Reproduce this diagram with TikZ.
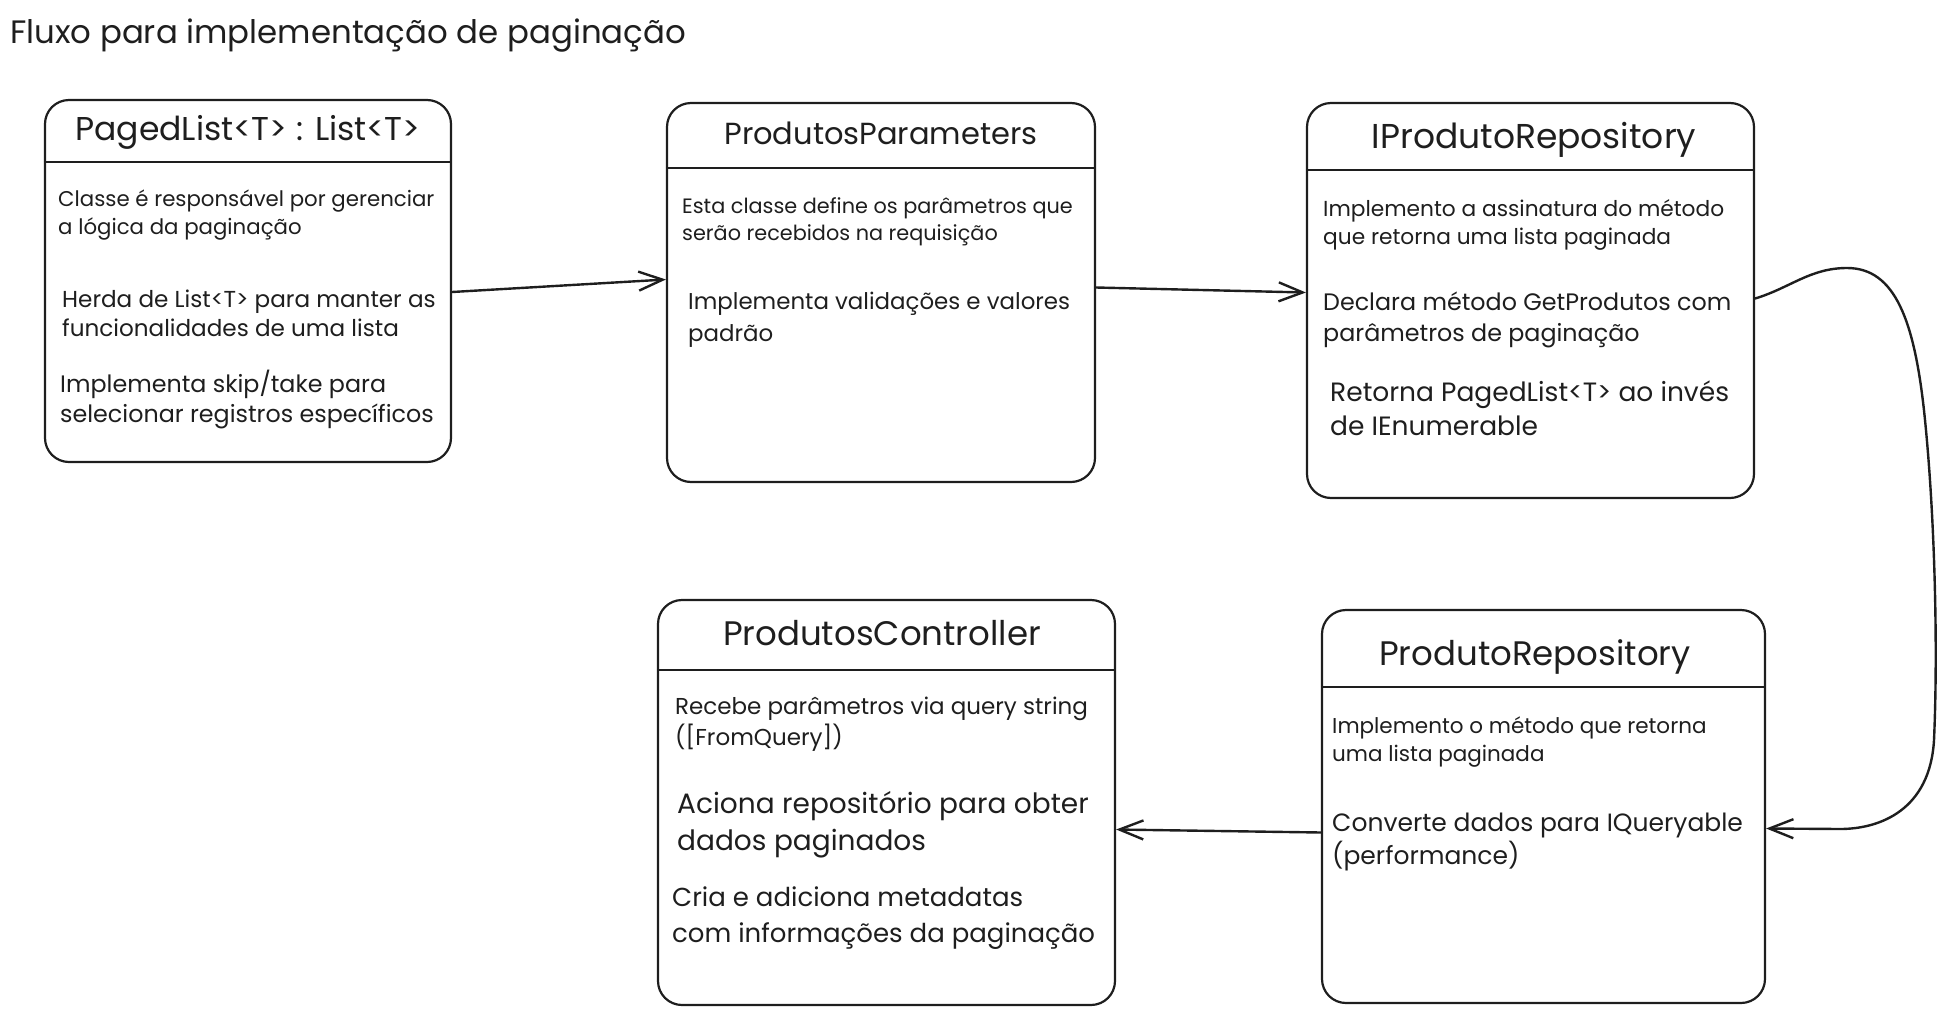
\documentclass[tikz,border=0pt]{standalone}
\usepackage{fontspec}
\setmainfont{Poppins}
\usetikzlibrary{arrows.meta}
\definecolor{ink}{HTML}{1E1E1E}
\begin{document}
\begin{tikzpicture}[x=1pt,y=-1pt,
  box/.style={draw=ink, line width=2.2pt, rounded corners=24pt, inner sep=0pt},
  sepline/.style={draw=ink, line width=2.8pt},
  ttl/.style={anchor=base, inner sep=0pt, text=ink, font=\fontsize{33}{40}\selectfont},
  body/.style={anchor=north west, inner sep=0pt, align=left, text=ink},
  sm/.style={body, font=\fontsize{21.5}{28}\selectfont},
  md/.style={body, font=\fontsize{24}{33}\selectfont},
  lg/.style={body, font=\fontsize{28}{37}\selectfont},
  conn/.style={draw=ink, line width=2.4pt, line cap=round,
    -{Straight Barb[length=24pt, width=19pt, line width=2.4pt]}}
]
\useasboundingbox (0,0) rectangle (1947,1015);

% title
\node[anchor=base west, inner sep=0pt, text=ink, font=\fontsize{32.4}{40}\selectfont] (title) at (10,43) {Fluxo para implementação de paginação};

% boxes
\node[box, minimum width=406pt, minimum height=362pt] (b1) at (248,281) {};
\node[box, minimum width=428pt, minimum height=379pt] (b2) at (881,292.5) {};
\node[box, minimum width=447pt, minimum height=395pt] (b3) at (1530.5,300.5) {};
\node[box, minimum width=457pt, minimum height=405pt] (b4) at (886.5,802.5) {};
\node[box, minimum width=443pt, minimum height=393pt] (b5) at (1543.5,806.5) {};

% separators
\draw[sepline] (b1.west |- 0,162) -- (b1.east |- 0,162);
\draw[sepline] (b2.west |- 0,168) -- (b2.east |- 0,168);
\draw[sepline] (b3.west |- 0,170) -- (b3.east |- 0,170);
\draw[sepline] (b4.west |- 0,670) -- (b4.east |- 0,670);
\draw[sepline] (b5.west |- 0,687) -- (b5.east |- 0,687);

% box titles
\node[ttl] (h1) at (248,140) {PagedList<T> : List<T>};
\node[ttl, font=\fontsize{30.5}{36}\selectfont] (h2) at (881,144) {ProdutosParameters};
\node[ttl, font=\fontsize{34.5}{40}\selectfont] (h3) at (1534,148) {IProdutoRepository};
\node[ttl, font=\fontsize{34}{40}\selectfont] (h4) at (882,645) {ProdutosController};
\node[ttl, font=\fontsize{34}{40}\selectfont] (h5) at (1535,665) {ProdutoRepository};

% body texts
\node[sm, font=\fontsize{21.3}{28}\selectfont] (t1a) at (58,190) {Classe é responsável por gerenciar\\a lógica da paginação};
\node[sm, font=\fontsize{23.1}{28.5}\selectfont] (t1b) at (62,290) {Herda de List<T> para manter as\\funcionalidades de uma lista};
\node[sm, font=\fontsize{23.8}{29.5}\selectfont] (t1c) at (60,370) {Implementa skip/take para\\selecionar registros específicos};

\node[sm, font=\fontsize{20.8}{27}\selectfont] (t2a) at (682,197) {Esta classe define os parâmetros que\\serão recebidos na requisição};
\node[md, font=\fontsize{22.9}{32}\selectfont] (t2b) at (688,292) {Implementa validações e valores\\padrão};

\node[sm, font=\fontsize{21.7}{28}\selectfont] (t3a) at (1323,199) {Implemento a assinatura do método\\que retorna uma lista paginada};
\node[md, font=\fontsize{23.8}{31}\selectfont] (t3b) at (1323,292) {Declara método GetProdutos com\\parâmetros de paginação};
\node[md, font=\fontsize{26.5}{34}\selectfont] (t3c) at (1330,381) {Retorna PagedList<T> ao invés\\de IEnumerable};

\node[sm, font=\fontsize{23}{31}\selectfont] (t4a) at (675,697) {Recebe parâmetros via query string\\([FromQuery])};
\node[lg, font=\fontsize{28}{37}\selectfont] (t4b) at (677,791) {Aciona repositório para obter\\dados paginados};
\node[lg, font=\fontsize{26}{36}\selectfont] (t4c) at (672,887) {Cria e adiciona metadatas\\com informações da paginação};

\node[sm] (t5a) at (1332,716) {Implemento o método que retorna\\uma lista paginada};
\node[md, font=\fontsize{25}{33}\selectfont] (t5b) at (1332,813) {Converte dados para IQueryable\\(performance)};

% connectors
\draw[conn] ([yshift=-11pt]b1.east) -- ([yshift=13pt]b2.west);
\draw[conn] ([yshift=5pt]b2.east) -- ([yshift=8pt]b3.west);
\draw[conn] ([yshift=2pt]b3.east)
  .. controls (1790,288) and (1810,268) .. (1847,268)
  .. controls (1895,268) and (1915,320) .. (1925,420)
  .. controls (1935,520) and (1938,650) .. (1934,740)
  .. controls (1930,810) and (1880,829) .. (1840,829)
  -- ([yshift=-22pt]b5.east);
\draw[conn] ([yshift=-26pt]b5.west) -- ([yshift=-27pt]b4.east);
\end{tikzpicture}
\end{document}
